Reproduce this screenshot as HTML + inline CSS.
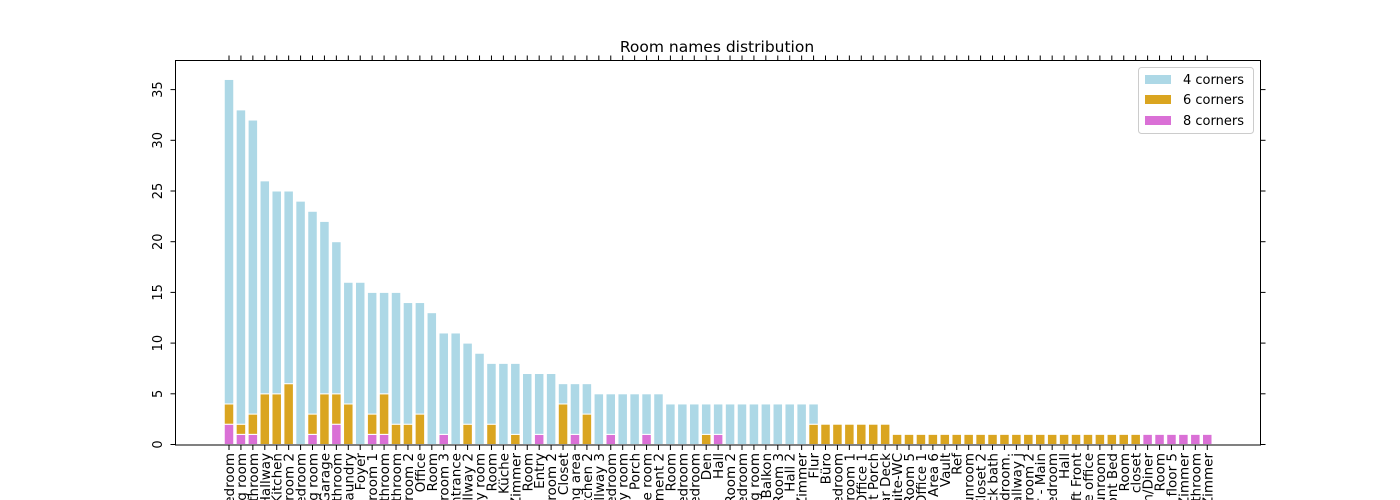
<!DOCTYPE html>
<html><head><meta charset="utf-8"><style>
html,body{margin:0;padding:0;background:#fff;overflow:hidden;width:1400px;height:500px;}
svg{display:block;font-family:"DejaVu Sans","Liberation Sans",sans-serif;}
</style></head><body>
<svg id="chart" width="1400" height="500" viewBox="0 0 1400 500" xmlns="http://www.w3.org/2000/svg" overflow="hidden">
<text x="717" y="52" font-size="15.5" text-anchor="middle">Room names distribution</text>
<g id="bars"></g>
<g id="axes"></g>
<g>
<rect x="1138.5" y="67.5" width="115" height="66" rx="3" fill="#fff" fill-opacity="0.8" stroke="#ccc"/>
<rect x="1145" y="75" width="26" height="9" fill="#add8e6"/>
<text x="1183" y="84" font-size="13">4 corners</text>
<rect x="1145" y="95" width="26" height="9" fill="#daa520"/>
<text x="1183" y="104" font-size="13">6 corners</text>
<rect x="1145" y="116" width="26" height="9" fill="#da70d6"/>
<text x="1183" y="125" font-size="13">8 corners</text>
</g>
</svg>
<script>
const categories = ["Bedroom","Living room","Bathroom","Hallway","Kitchen","Bedroom 2","bedroom","Dining room","Garage","bathroom","Laundry","Foyer","Bedroom 1","Bathroom","bathroom","Bedroom 2","Office","Room","Bedroom 3","Entrance","Hallway 2","Family room","Room","Küche","Zimmer","Room","Entry","Bathroom 2","Closet","Dining area","Kitchen 2","Hallway 3","Master bedroom","Laundry room","Porch","Storage room","Basement 2","Room","bedroom","Bedroom","Den","Hall","Room 2","bedroom","Living room","Balkon","Room 3","Hall 2","Zimmer","Flur","Büro","Bedroom","Bathroom 1","Office 1","Front Porch","Rear Deck","Suite-WC","Room 5","Office 1","Area 6","Vault","Ref","Sunroom","Closet 2","Jack bath","Bedroom.","Hallway j","Bathroom 2","Floor - Main","Bedroom","Hall","Left Front","Home office","Sunroom","Front Bed","Room","closet","Kitchen/Diner","Room","floor 5","Zimmer","Bathroom","Zimmer"];
const corners4 = [32,31,29,21,20,19,24,20,17,15,12,16,12,10,13,12,11,13,10,11,8,9,6,8,7,7,6,7,2,5,3,5,4,5,5,4,5,4,4,4,3,3,4,4,4,4,4,4,4,2,0,0,0,0,0,0,0,0,0,0,0,0,0,0,0,0,0,0,0,0,0,0,0,0,0,0,0,0,0,0,0,0,0];
const corners6 = [2,1,2,5,5,6,0,2,5,3,4,0,2,4,2,2,3,0,0,0,2,0,2,0,1,0,0,0,4,0,3,0,0,0,0,0,0,0,0,0,1,0,0,0,0,0,0,0,0,2,2,2,2,2,2,2,1,1,1,1,1,1,1,1,1,1,1,1,1,1,1,1,1,1,1,1,1,0,0,0,0,0,0];
const corners8 = [2,1,1,0,0,0,0,1,0,2,0,0,1,1,0,0,0,0,1,0,0,0,0,0,0,0,1,0,0,1,0,0,1,0,0,1,0,0,0,0,0,1,0,0,0,0,0,0,0,0,0,0,0,0,0,0,0,0,0,0,0,0,0,0,0,0,0,0,0,0,0,0,0,0,0,0,0,1,1,1,1,1,1];
const yTicks = [0,5,10,15,20,25,30,35];

const NS = "http://www.w3.org/2000/svg";
const L = 175.5, R = 1260.5, T = 60.5, B = 445;
const Y0 = 444.5, PPU = 10.14;
const X0 = 229, STEP = 11.93;
function xScale(i){ return X0 + i*STEP; }
function yScale(v){ return Y0 - v*PPU; }
function mk(tag, attrs){ const e = document.createElementNS(NS, tag); for (const k in attrs) e.setAttribute(k, attrs[k]); return e; }

const bars = document.getElementById('bars');
const bw = 9.5;
categories.forEach((c,i)=>{
  const x = xScale(i) - bw/2;
  const segs = [[corners8[i],0,'#da70d6','8'],[corners6[i],corners8[i],'#daa520','6'],[corners4[i],corners8[i]+corners6[i],'#add8e6','4']];
  segs.forEach(s=>{
    if (s[0] <= 0) return;
    const r = mk('rect',{x:x, y:yScale(s[1]+s[0]), width:bw, height:s[0]*PPU, fill:s[2], stroke:'#fff', 'stroke-width':1});
    
    
    bars.appendChild(r);
  });
});

const axes = document.getElementById('axes');
const frame = mk('rect',{x:L, y:T, width:R-L, height:B-T, fill:'none', stroke:'#000', 'stroke-width':1});


axes.appendChild(frame);

yTicks.forEach(v=>{
  const y = yScale(v);
  const t = mk('line',{x1:L-5, x2:L, y1:y, y2:y, stroke:'#000'});
  
  
  axes.appendChild(t);
  const t2 = mk('line',{x1:R, x2:R+5, y1:y, y2:y, stroke:'#000'});
  
  
  axes.appendChild(t2);
  const lb = mk('text',{x:0, y:0, 'font-size':13, 'text-anchor':'middle', transform:'translate(162,'+y+') rotate(-90)'});
  lb.textContent = v;
  
  
  axes.appendChild(lb);
});

categories.forEach((c,i)=>{
  const x = xScale(i);
  const t = mk('line',{x1:x, x2:x, y1:B, y2:B+5, stroke:'#000'});
  
  
  axes.appendChild(t);
  const t2 = mk('line',{x1:x, x2:x, y1:T-5, y2:T, stroke:'#000'});
  
  
  axes.appendChild(t2);
  const lb = mk('text',{x:0, y:0, 'font-size':13.5, 'text-anchor':'end', transform:'translate('+(x+5)+','+(B+8)+') rotate(-90)'});
  lb.textContent = c;
  
  
  axes.appendChild(lb);
});
</script>
</body></html>
